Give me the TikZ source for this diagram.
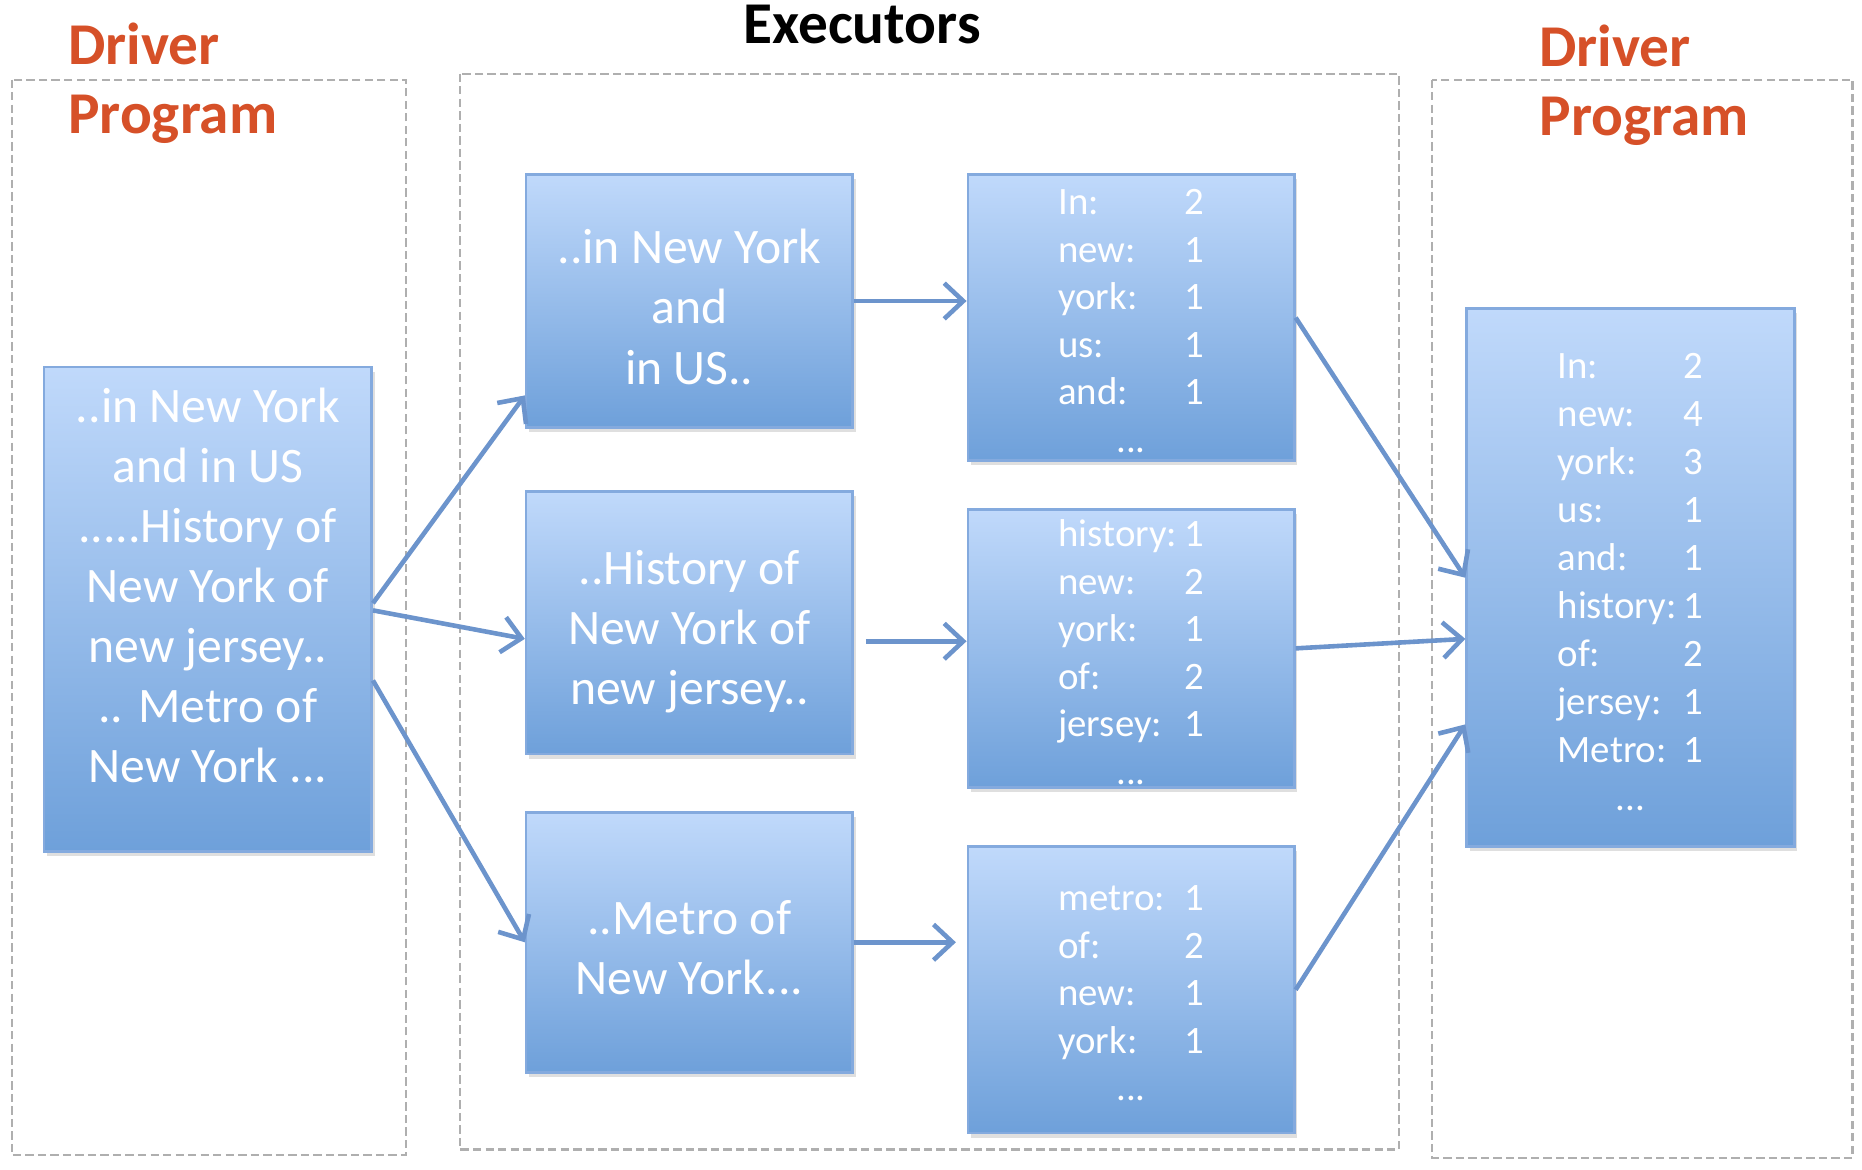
\documentclass[tikz,border=0pt]{standalone}
\usepackage{fontspec}
\setmainfont{Carlito}
\usetikzlibrary{arrows.meta,shadows}

\definecolor{titlered}{RGB}{214,80,40}
\definecolor{boxtop}{RGB}{192,217,251}
\definecolor{boxbot}{RGB}{110,160,218}
\definecolor{boxline}{RGB}{132,170,222}
\definecolor{arrowblue}{RGB}{108,148,204}
\definecolor{framegray}{RGB}{175,175,175}

\newcommand{\wc}[2]{\makebox[1.06cm][l]{#1}#2}
\newcommand{\topgap}[1]{\rule{0pt}{#1}}

\begin{document}
\begin{tikzpicture}
      [%%%%%%%%%%%%%%%%%%%%%%%%%%%%%%
      frame/.style={draw=framegray, line width=0.5pt, dash pattern=on 2pt off 1pt},
      title/.style={font=\fontsize{14.2}{16.5}\selectfont\bfseries, align=left},
      box/.style={rectangle, draw=boxline, line width=0.6pt, top color=boxtop, bottom color=boxbot,
                  drop shadow={opacity=0.25, shadow xshift=0.025cm, shadow yshift=-0.04cm},
                  text=white, align=center, inner sep=0pt},
      bigtxt/.style={font=\fontsize{11.9}{14.4}\selectfont},
      smalltxt/.style={font=\fontsize{9.3}{11.4}\selectfont},
      arr/.style={draw=arrowblue, line width=1.1pt, -{Straight Barb[length=0.16cm,width=0.3cm]}},
      ]%%%%%%%%%%%%%%%%%%%%%%%%%%%%%%

      \useasboundingbox (0,0) rectangle (15.68,-9.85);

      % dashed frames
      \draw[frame] (0.10,-0.67) rectangle (3.42,-9.73);
      \draw[frame] (3.87,-0.62) rectangle (11.78,-9.68);
      \draw[frame] (12.06,-0.67) rectangle (15.60,-9.75);

      % titles
      \node[title, text=titlered, anchor=west] (drvl) at (0.45,-0.70) {Driver\\Program};
      \node[title, text=black] (exec) at (7.26,-0.21) {Executors};
      \node[title, text=titlered, anchor=west] (drvr) at (12.84,-0.72) {Driver\\Program};

      % driver input
      \node[box, minimum width=2.76cm, minimum height=4.08cm] (src) at (1.75,-5.13) {};
      \node[bigtxt, text=white, align=center] (srctxt) at (1.75,-4.93)
        {..in New York\\and in US\\.....History of\\New York of\\new jersey..\\.. Metro of\\New York ...};

      % executor partitions
      \node[box, bigtxt, minimum width=2.75cm, minimum height=2.13cm] (ex1) at (5.805,-2.535)
        {\topgap{0.39cm}..in New York\\and\\in US..};
      \node[box, bigtxt, minimum width=2.75cm, minimum height=2.21cm] (ex2) at (5.805,-5.245)
        {\topgap{0.43cm}..History of\\New York of\\new jersey..};
      \node[box, bigtxt, minimum width=2.75cm, minimum height=2.19cm] (ex3) at (5.805,-7.935)
        {\topgap{0.37cm}..Metro of\\New York...};

      % word counts
      \node[box, smalltxt, minimum width=2.75cm, minimum height=2.41cm] (cnt1) at (9.525,-2.675)
        {\topgap{0.27cm}\wc{In:}{2}\\\wc{new:}{1}\\\wc{york:}{1}\\\wc{us:}{1}\\\wc{and:}{1}\\...};
      \node[box, smalltxt, minimum width=2.75cm, minimum height=2.34cm] (cnt2) at (9.525,-5.46)
        {\topgap{0.29cm}\wc{history:}{1}\\\wc{new:}{2}\\\wc{york:}{1}\\\wc{of:}{2}\\\wc{jersey:}{1}\\...};
      \node[box, smalltxt, minimum width=2.75cm, minimum height=2.41cm] (cnt3) at (9.525,-8.335)
        {\topgap{0.27cm}\wc{metro:}{1}\\\wc{of:}{2}\\\wc{new:}{1}\\\wc{york:}{1}\\...};

      % driver result
      \node[box, font=\fontsize{9.3}{11.5}\selectfont, minimum width=2.76cm, minimum height=4.53cm] (res) at (13.73,-4.865)
        {\topgap{0.29cm}\wc{In:}{2}\\\wc{new:}{4}\\\wc{york:}{3}\\\wc{us:}{1}\\\wc{and:}{1}\\\wc{history:}{1}\\
         \wc{of:}{2}\\\wc{jersey:}{1}\\\wc{Metro:}{1}\\...};

      % split
      \draw[arr] ([yshift=0.05cm]src.east) -- ([yshift=-0.795cm]ex1.west);
      \draw[arr] ([yshift=-0.01cm]src.east) -- ([yshift=-0.135cm]ex2.west);
      \draw[arr] ([yshift=-0.60cm]src.east) -- (ex3.west);

      % count
      \draw[arr] (ex1.east) -- (ex1.east -| cnt1.west);
      \draw[arr] ([xshift=0.1cm,yshift=-0.155cm]ex2.east) -- ([yshift=-0.155cm]ex2.east -| cnt2.west);
      \draw[arr] (ex3.east) -- ([xshift=-0.09cm]ex3.east -| cnt3.west);

      % collect
      \draw[arr] (cnt1.east) -- (res.west);
      \draw[arr] (cnt2.east) -- ([yshift=-0.515cm]res.west);
      \draw[arr] (cnt3.east) -- ([yshift=-1.235cm]res.west);
    \end{tikzpicture}
\end{document}
